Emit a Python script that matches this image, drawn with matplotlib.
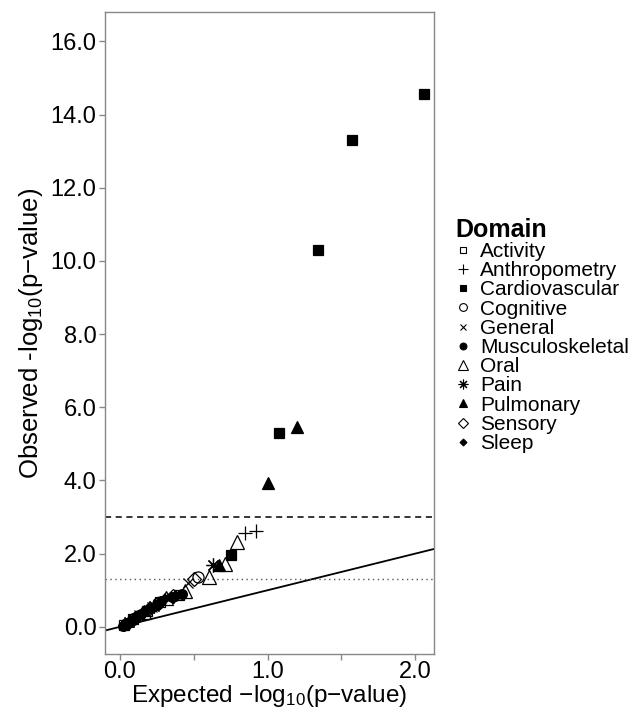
import matplotlib
matplotlib.use("Agg")
import matplotlib.pyplot as plt
import numpy as np

plt.rcParams["font.family"] = ["Liberation Sans", "DejaVu Sans"]
plt.rcParams["mathtext.fontset"] = "custom"
plt.rcParams["mathtext.rm"] = "Liberation Sans"
plt.rcParams["mathtext.it"] = "Liberation Sans:italic"

# QQ points: domain, expected -log10(p), observed -log10(p)
domain = ["Cardiovascular", "Cardiovascular", "Cardiovascular", "Pulmonary",
          "Cardiovascular", "Pulmonary", "Anthropometry", "Anthropometry",
          "Oral", "Cardiovascular", "Oral", "Pulmonary", "Pain", "Oral",
          "Cognitive", "Sensory", "General", "Oral",
          "Musculoskeletal", "Activity", "Sleep", "Sensory", "Musculoskeletal",
          "General", "Oral", "Sleep", "Musculoskeletal", "Activity",
          "Cognitive", "Musculoskeletal", "Sleep", "Pain", "General",
          "Musculoskeletal", "Sensory", "Sleep", "Activity", "Musculoskeletal",
          "Oral", "Sleep", "Musculoskeletal", "General", "Cognitive",
          "Musculoskeletal", "Sleep", "Activity", "Musculoskeletal", "Sensory",
          "Sleep", "Musculoskeletal", "Pain", "Musculoskeletal", "Sleep",
          "Cognitive", "Musculoskeletal", "Activity", "Sleep", "Musculoskeletal"]
expected = [2.06, 1.57, 1.34, 1.20, 1.08, 1.00, 0.92, 0.85, 0.79, 0.75,
            0.71, 0.67, 0.63, 0.60, 0.53, 0.50, 0.46, 0.44,
            0.42, 0.40, 0.38, 0.36, 0.35, 0.33, 0.31, 0.30, 0.28, 0.27,
            0.26, 0.25, 0.24, 0.23, 0.22, 0.21, 0.20, 0.19, 0.18, 0.17,
            0.16, 0.15, 0.14, 0.13, 0.12, 0.11, 0.10, 0.09, 0.085, 0.08,
            0.07, 0.065, 0.06, 0.05, 0.045, 0.04, 0.035, 0.03, 0.025, 0.02]
observed = [14.56, 13.31, 10.30, 5.46, 5.30, 3.93, 2.61, 2.57, 2.32, 1.97,
            1.72, 1.70, 1.70, 1.37, 1.37, 1.30, 1.20, 0.97,
            0.90, 0.87, 0.85, 0.83, 0.82, 0.80, 0.78, 0.75, 0.71, 0.67,
            0.64, 0.61, 0.58, 0.56, 0.54, 0.51, 0.48, 0.46, 0.44, 0.42,
            0.40, 0.37, 0.34, 0.32, 0.30, 0.27, 0.25, 0.22, 0.20, 0.18,
            0.16, 0.14, 0.12, 0.10, 0.08, 0.07, 0.06, 0.04, 0.03, 0.02]

domains = ["Activity", "Anthropometry", "Cardiovascular", "Cognitive",
           "General", "Musculoskeletal", "Oral", "Pain", "Pulmonary",
           "Sensory", "Sleep"]

# marker style per domain (R pch-like shapes)
styles = {
    "Activity": dict(marker="s", ms=7, mfc="none"),
    "Anthropometry": dict(marker="+", ms=10),
    "Cardiovascular": dict(marker="s", ms=7, mfc="black"),
    "Cognitive": dict(marker="o", ms=8, mfc="none"),
    "General": dict(marker="x", ms=7),
    "Musculoskeletal": dict(marker="o", ms=7, mfc="black"),
    "Oral": dict(marker="^", ms=10, mfc="none"),
    "Pain": dict(marker=(8, 2, 0), ms=10),
    "Pulmonary": dict(marker="^", ms=9, mfc="black"),
    "Sensory": dict(marker="D", ms=7, mfc="none"),
    "Sleep": dict(marker="D", ms=5, mfc="black"),
}

dom_arr = np.array(domain)
exp_arr = np.array(expected)
obs_arr = np.array(observed)

fig = plt.figure(figsize=(6.32, 7.10), dpi=100)
ax = fig.add_axes([0.166, 0.079, 0.521, 0.904])

# reference lines
xs = np.array([-0.2, 2.3])
ax.plot(xs, xs, color="black", lw=1.3, zorder=1)
ax.axhline(3.0, color="black", lw=1.1, ls=(0, (4, 3)), zorder=1)
ax.axhline(1.30, color="#555555", lw=1.0, ls=(0, (1, 2.5)), zorder=1)

handles = []
for d in domains:
    m = dom_arr == d
    st = styles[d]
    ax.plot(exp_arr[m], obs_arr[m], ls="none", mec="black", mew=0.9,
            color="black", zorder=3, **st)
    leg_st = dict(st)
    leg_st["ms"] = st["ms"] * 0.7
    h, = ax.plot([], [], ls="none", mec="black", mew=0.8, color="black",
                 label=d, **leg_st)
    handles.append(h)

ax.set_xlim(-0.102, 2.129)
ax.set_ylim(-0.74, 16.80)
ax.set_xticks([0, 0.5, 1.0, 1.5, 2.0])
ax.set_xticklabels(["0.0", "", "1.0", "", "2.0"])
ax.set_yticks(np.arange(0, 17, 2))
ax.set_yticklabels([f"{v:.1f}" for v in np.arange(0, 17, 2)])

for s in ax.spines.values():
    s.set_color("#888888")
    s.set_linewidth(1.0)
ax.tick_params(axis="both", colors="#888888", labelcolor="black",
               labelsize=17, length=4, width=1.0, pad=2)
ax.tick_params(axis="x", pad=1)

ax.set_xlabel("Expected \u2212log$_{10}$(p\u2212value)", fontsize=17.5, labelpad=0)
ax.set_ylabel("Observed -log$_{10}$(p\u2212value)", fontsize=18.5, labelpad=4)

leg = fig.legend(handles=handles, loc="upper left",
                 bbox_to_anchor=(0.707, 0.705), frameon=False,
                 title="Domain", fontsize=15, labelspacing=0.01,
                 handlelength=0.8, handletextpad=0.4, borderaxespad=0,
                 alignment="left")
leg.get_title().set_fontsize(18)
leg.get_title().set_fontweight("bold")

fig.savefig("out.png", dpi=100)
